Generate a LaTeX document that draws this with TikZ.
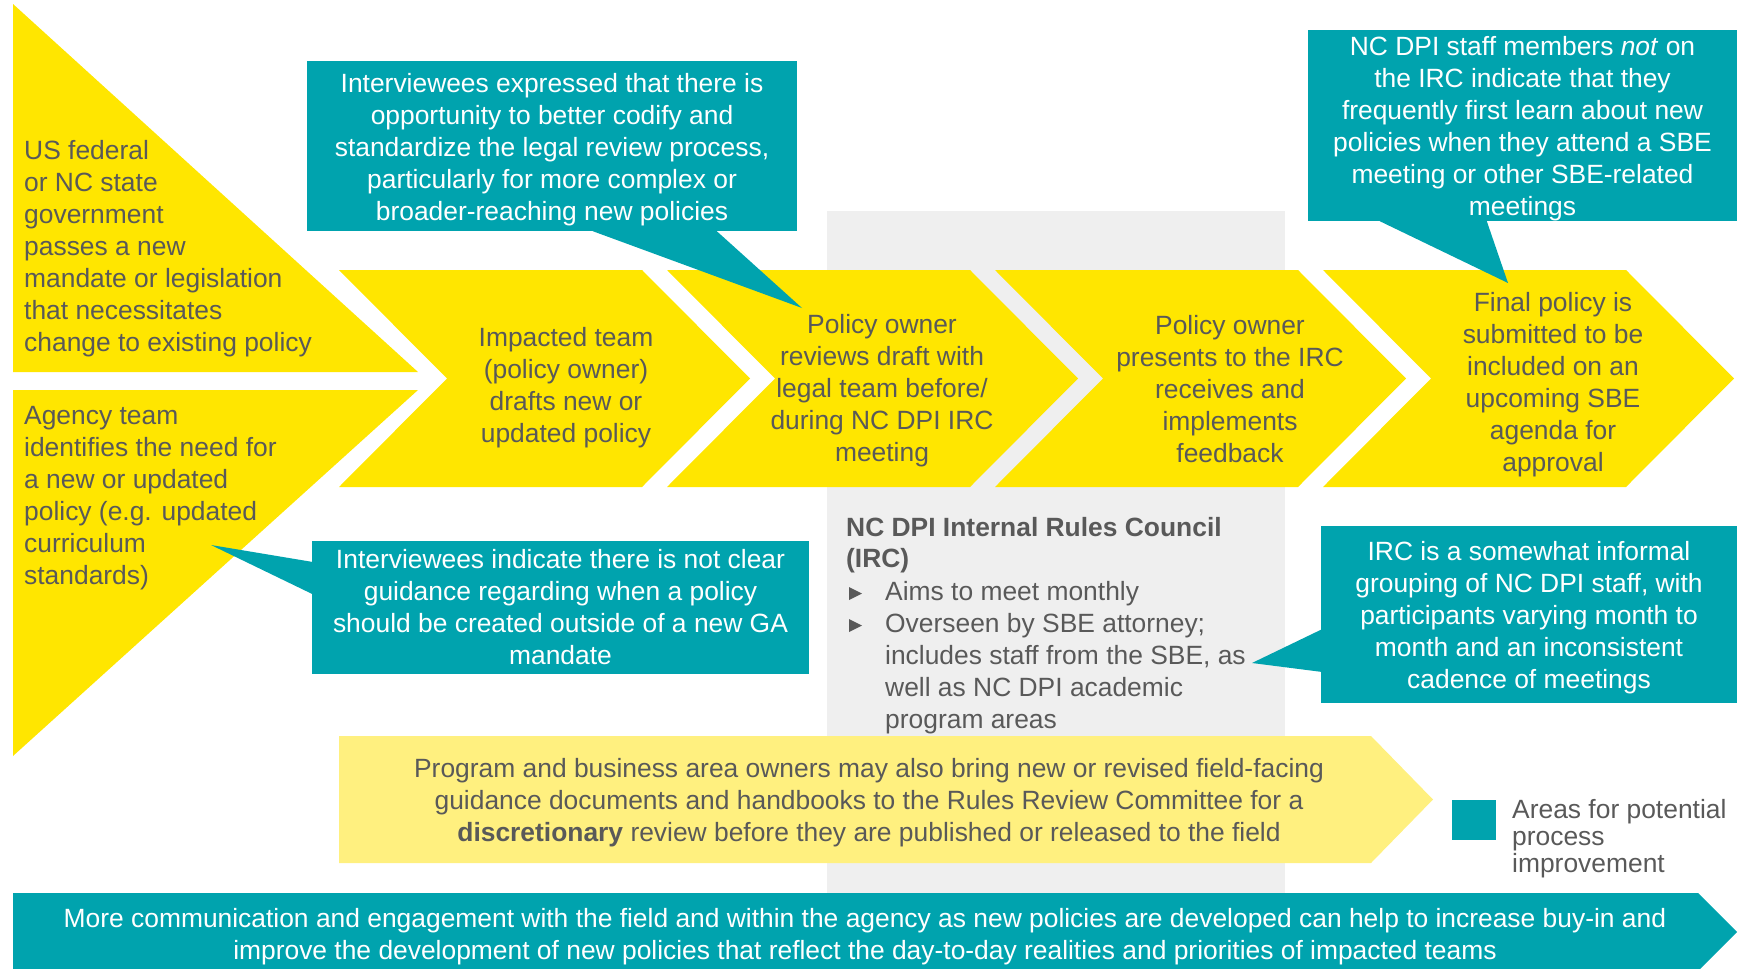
\documentclass[tikz,border=0pt]{standalone}
\usepackage{fontspec}
\setmainfont{Liberation Sans}
\usetikzlibrary{calc}
\definecolor{dpiyellow}{HTML}{FFE600}
\definecolor{paleyellow}{HTML}{FFF07F}
\definecolor{dpiteal}{HTML}{00A3AE}
\definecolor{panelgray}{HTML}{EFEFEF}
\definecolor{textgray}{HTML}{595959}
\newcommand{\toplift}{\rule{0pt}{25.5pt}}

\begin{document}
\begin{tikzpicture}[x=1pt,y=-1pt,
      font=\fontsize{26.4}{32}\selectfont,
      every node/.style={inner sep=0pt,text=textgray},
      stage/.style={align=center},
      intro/.style={align=left,anchor=north west},
      callout/.style={fill=dpiteal,text=white,align=center},
      pointer/.style={fill=dpiteal}]
    \useasboundingbox (0,0) rectangle (1741,969);
    \clip (0,0) rectangle (1741,969);
    % IRC panel behind the process
    \fill[panelgray] (827,211) rectangle (1285,893);
    % starting triggers
    \fill[dpiyellow] (13,4) -- (418,372) -- (13,372) -- cycle;
    \fill[dpiyellow] (13,390) -- (418,390) -- (13,756) -- cycle;
    \node[intro] (trigfed) at (24,140) {US federal\\or NC state\\government\\passes a new\\mandate or legislation\\that necessitates\\change to existing policy};
    \node[intro] (trigagency) at (24,406) {Agency team\\identifies the need for\\a new or updated\\policy (e.g. updated\\curriculum\\standards)};
    % process chevrons
    \foreach \L/\tx/\ty/\nm/\txt in {
        339/566/388/drafts/{Impacted team\\(policy owner)\\drafts new or\\updated policy},
        667/882/391/legal/{Policy owner\\reviews draft with\\legal team before/\\during NC DPI IRC\\meeting},
        995/1230/389/present/{Policy owner\\presents to the IRC\\receives and\\implements\\feedback},
        1323/1553/385/submit/{Final policy is\\submitted to be\\included on an\\upcoming SBE\\agenda for\\approval}}{
      \fill[dpiyellow] (\L,270) -- ++(303,0) -- ++(108,108.5) -- ++(-108,108.5)
        -- ++(-303,0) -- ++(108,-108.5) -- cycle;
      \node[stage] (\nm) at (\tx,\ty) {\txt};
    }
    % IRC description
    \node[intro,font=\fontsize{26.4}{31}\selectfont\bfseries] (irctitle) at (846,517)
      {NC DPI Internal Rules Council\\(IRC)};
    \node[intro] (ircpoints) at (885,581) {Aims to meet monthly\\Overseen by SBE attorney;\\includes staff from the SBE, as\\well as NC DPI academic\\program areas};
    \fill[textgray] (849,587) -- (862,593.5) -- (849,600) -- cycle;
    \fill[textgray] (849,619) -- (862,625.5) -- (849,632) -- cycle;
    % discretionary path
    \fill[paleyellow] (339,736) -- (1371,736) -- (1433,799.5) -- (1371,863) -- (339,863) -- cycle;
    \node[stage] (discr) at (869,803) {Program and business area owners may also bring new or revised field-facing\\guidance documents and handbooks to the Rules Review Committee for a\\\textbf{discretionary} review before they are published or released to the field};
    % bottom banner
    \fill[dpiteal] (13,893) -- (1698,893) -- (1737,932) -- (1698,971) -- (13,971) -- cycle;
    \node[stage,text=white] (banner) at (865,936.5) {More communication and engagement with the field and within the agency as new policies are developed can help to increase buy-in and\\improve the development of new policies that reflect the day-to-day realities and priorities of impacted teams};
    % callouts
    \node[callout,minimum width=490pt,minimum height=170pt] (codify) at (552,146) {\toplift Interviewees expressed that there is\\opportunity to better codify and\\standardize the legal review process,\\particularly for more complex or\\broader-reaching new policies};
    \coordinate (codifytip) at (802,308);
    \fill[pointer] ([xshift=286pt]codify.south west) -- (codifytip) -- ([xshift=410pt]codify.south west) -- cycle;

    \node[callout,minimum width=429pt,minimum height=191pt] (learn) at (1522.5,125.5) {\toplift NC DPI staff members \textit{not} on\\the IRC indicate that they\\frequently first learn about new\\policies when they attend a SBE\\meeting or other SBE-related\\meetings};
    \coordinate (learntip) at (1508,283);
    \fill[pointer] ([xshift=72pt]learn.south west) -- (learntip) -- ([xshift=179pt]learn.south west) -- cycle;

    \node[callout,minimum width=497pt,minimum height=133pt] (guidance) at (560.5,607.5) {Interviewees indicate there is not clear\\guidance regarding when a policy\\should be created outside of a new GA\\mandate};
    \coordinate (guidancetip) at (211,545);
    \fill[pointer] ($(guidance.north west)+(0,21)$) -- (guidancetip) -- ($(guidance.north west)+(0,53)$) -- cycle;

    \node[callout,minimum width=416pt,minimum height=177pt] (informal) at (1529,614.5) {\toplift IRC is a somewhat informal\\grouping of NC DPI staff, with\\participants varying month to\\month and an inconsistent\\cadence of meetings};
    \coordinate (informaltip) at (1252,663);
    \fill[pointer] ($(informal.north west)+(0,104)$) -- (informaltip) -- ($(informal.north west)+(0,146)$) -- cycle;
    % legend
    \node[fill=dpiteal,minimum width=44pt,minimum height=40pt] (legkey) at (1474,820) {};
    \node[intro,font=\fontsize{26.4}{27}\selectfont] (legtext) at (1512,799) {Areas for potential\\process\\improvement};
  \end{tikzpicture}
\end{document}
